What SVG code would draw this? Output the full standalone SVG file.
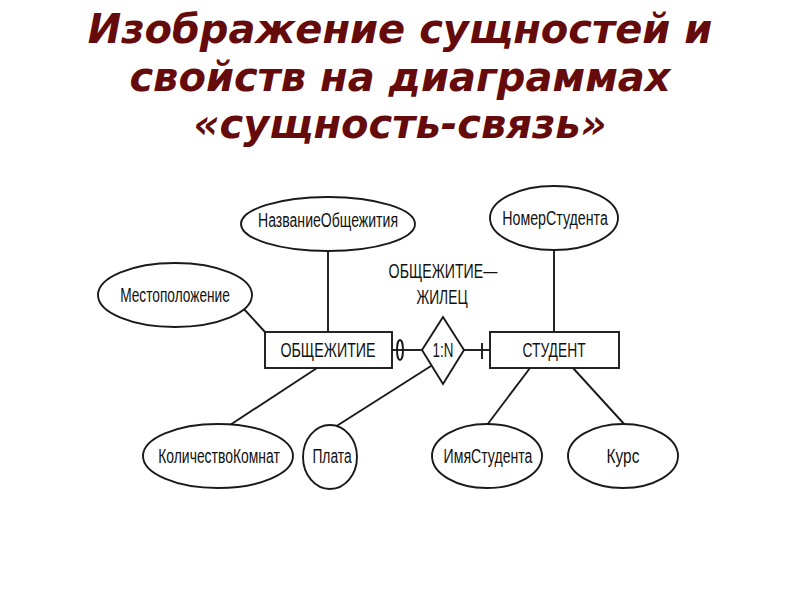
<svg xmlns="http://www.w3.org/2000/svg" width="800" height="600" viewBox="0 0 800 600">
<style>
.title{font-family:"DejaVu Sans",sans-serif;font-weight:bold;font-style:oblique;font-size:40px;fill:#650b0b;text-anchor:middle}
.shape{fill:#fff;stroke:#1a1a1a;stroke-width:1.9}
.ln{stroke:#1a1a1a;stroke-width:1.9;fill:none}
.lbl{font-family:"Liberation Sans",Arial,sans-serif;font-size:20px;fill:#111;text-anchor:middle}
</style>
<rect width="800" height="600" fill="#fff"/>
<g id="title">
<text class="title" x="400" y="43">Изображение сущностей и</text>
<text class="title" x="400" y="91">свойств на диаграммах</text>
<text class="title" x="400" y="138">«сущность-связь»</text>
</g>
<g id="connectors">
<line class="ln" x1="328" y1="251" x2="328" y2="332"/>
<line class="ln" x1="243" y1="308" x2="265" y2="332"/>
<line class="ln" x1="317" y1="368" x2="230" y2="425"/>
<line class="ln" x1="335" y1="427" x2="431" y2="366"/>
<line class="ln" x1="392" y1="350" x2="422" y2="350"/>
<ellipse class="ln" cx="400" cy="350" rx="3" ry="10"/>
<line class="ln" x1="464" y1="350" x2="490" y2="350"/>
<line class="ln" x1="482" y1="343" x2="482" y2="359"/>
<line class="ln" x1="554" y1="251" x2="554" y2="332"/>
<line class="ln" x1="530" y1="368" x2="487" y2="425"/>
<line class="ln" x1="573" y1="368" x2="625" y2="425"/>
</g>
<g id="nazvanie"><ellipse class="shape" cx="328" cy="224" rx="87" ry="27"/><text class="lbl" transform="translate(328,227) scale(0.8,1)" textLength="175" lengthAdjust="spacingAndGlyphs">НазваниеОбщежития</text></g>
<g id="mesto"><ellipse class="shape" cx="175" cy="295" rx="77" ry="32"/><text class="lbl" transform="translate(175,302) scale(0.8,1)" textLength="137" lengthAdjust="spacingAndGlyphs">Местоположение</text></g>
<g id="obshchezhitie"><rect class="shape" x="265" y="332" width="127" height="36"/><text class="lbl" transform="translate(328,357) scale(0.8,1)" textLength="119" lengthAdjust="spacingAndGlyphs">ОБЩЕЖИТИЕ</text></g>
<g id="relation"><polygon class="shape" points="443,317 464,350 443,384 422,350"/><text class="lbl" transform="translate(443,357) scale(0.8,1)" textLength="26" lengthAdjust="spacingAndGlyphs">1:N</text></g>
<g id="relation-label"><text class="lbl" transform="translate(443,278) scale(0.8,1)" textLength="136" lengthAdjust="spacingAndGlyphs">ОБЩЕЖИТИЕ—</text><text class="lbl" transform="translate(442,304) scale(0.8,1)" textLength="64" lengthAdjust="spacingAndGlyphs">ЖИЛЕЦ</text></g>
<g id="student"><rect class="shape" x="490" y="332" width="129" height="36"/><text class="lbl" transform="translate(554,357) scale(0.8,1)" textLength="79" lengthAdjust="spacingAndGlyphs">СТУДЕНТ</text></g>
<g id="nomer"><ellipse class="shape" cx="554" cy="218" rx="64" ry="32"/><text class="lbl" transform="translate(555,225) scale(0.8,1)" textLength="132" lengthAdjust="spacingAndGlyphs">НомерСтудента</text></g>
<g id="kolichestvo"><ellipse class="shape" cx="218" cy="456" rx="75" ry="32"/><text class="lbl" transform="translate(219,463) scale(0.8,1)" textLength="152" lengthAdjust="spacingAndGlyphs">КоличествоКомнат</text></g>
<g id="plata"><ellipse class="shape" cx="330" cy="457" rx="27" ry="32"/><text class="lbl" transform="translate(332,463) scale(0.8,1)" textLength="49" lengthAdjust="spacingAndGlyphs">Плата</text></g>
<g id="imya"><ellipse class="shape" cx="487" cy="456" rx="55" ry="32"/><text class="lbl" transform="translate(488,463) scale(0.8,1)" textLength="111" lengthAdjust="spacingAndGlyphs">ИмяСтудента</text></g>
<g id="kurs"><ellipse class="shape" cx="623" cy="456" rx="55" ry="32"/><text class="lbl" transform="translate(623,463) scale(0.8,1)" textLength="41" lengthAdjust="spacingAndGlyphs">Курс</text></g>
</svg>
